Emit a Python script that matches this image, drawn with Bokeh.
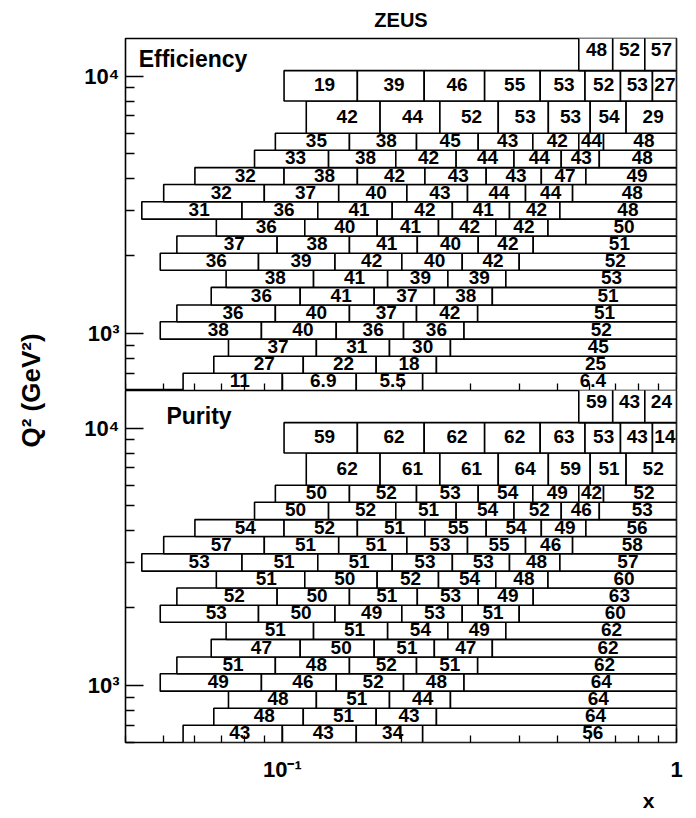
import math
from bokeh.plotting import figure
from bokeh.layouts import row, column
from bokeh.models import (Range1d, ColumnDataSource, FixedTicker,
                          CustomJSTickFormatter, Title)
from bokeh.core.properties import value
from bokeh.embed import file_html
from bokeh.resources import INLINE

# ---------------- data (rows ordered from lowest Q^2 upward) ----------------
q2_low = [600, 700, 815, 950, 1110, 1290, 1510, 1760, 2050, 2390,
          2780, 3250, 3790, 4410, 5150, 6000, 8000, 10500]
q2_high = [700, 815, 950, 1110, 1290, 1510, 1760, 2050, 2390, 2780,
           3250, 3790, 4410, 5150, 6000, 8000, 10500, 15000]

x_edges = [
    [0.056, 0.100, 0.154, 0.227, 1.0],
    [0.067, 0.113, 0.173, 0.246, 1.0],
    [0.073, 0.122, 0.187, 0.267, 1.0],
    [0.049, 0.0885, 0.137, 0.203, 0.289, 1.0],
    [0.054, 0.096, 0.148, 0.219, 0.313, 1.0],
    [0.066, 0.111, 0.171, 0.243, 0.341, 1.0],
    [0.072, 0.120, 0.185, 0.263, 0.369, 1.0],
    [0.049, 0.087, 0.136, 0.201, 0.286, 0.399, 1.0],
    [0.054, 0.097, 0.148, 0.220, 0.314, 0.433, 1.0],
    [0.068, 0.114, 0.174, 0.249, 0.348, 0.472, 1.0],
    [0.044, 0.079, 0.123, 0.190, 0.270, 0.377, 0.506, 1.0],
    [0.050, 0.090, 0.139, 0.207, 0.295, 0.414, 0.545, 1.0],
    [0.060, 0.101, 0.155, 0.230, 0.329, 0.454, 0.589, 1.0],
    [0.085, 0.131, 0.194, 0.276, 0.387, 0.510, 0.637, 1.0],
    [0.096, 0.148, 0.219, 0.314, 0.432, 0.565, 0.653, 1.0],
    [0.115, 0.177, 0.251, 0.353, 0.473, 0.604, 0.745, 1.0],
    [0.101, 0.155, 0.229, 0.326, 0.451, 0.586, 0.721, 0.869, 1.0],
    [0.565, 0.689, 0.831, 1.0],
]

efficiency = [
    [11, 6.9, 5.5, 6.4],
    [27, 22, 18, 25],
    [37, 31, 30, 45],
    [38, 40, 36, 36, 52],
    [36, 40, 37, 42, 51],
    [36, 41, 37, 38, 51],
    [38, 41, 39, 39, 53],
    [36, 39, 42, 40, 42, 52],
    [37, 38, 41, 40, 42, 51],
    [36, 40, 41, 42, 42, 50],
    [31, 36, 41, 42, 41, 42, 48],
    [32, 37, 40, 43, 44, 44, 48],
    [32, 38, 42, 43, 43, 47, 49],
    [33, 38, 42, 44, 44, 43, 48],
    [35, 38, 45, 43, 42, 44, 48],
    [42, 44, 52, 53, 53, 54, 29],
    [19, 39, 46, 55, 53, 52, 53, 27],
    [48, 52, 57],
]

purity = [
    [43, 43, 34, 56],
    [48, 51, 43, 64],
    [48, 51, 44, 64],
    [49, 46, 52, 48, 64],
    [51, 48, 52, 51, 62],
    [47, 50, 51, 47, 62],
    [51, 51, 54, 49, 62],
    [53, 50, 49, 53, 51, 60],
    [52, 50, 51, 53, 49, 63],
    [51, 50, 52, 54, 48, 60],
    [53, 51, 51, 53, 53, 48, 57],
    [57, 51, 51, 53, 55, 46, 58],
    [54, 52, 51, 55, 54, 49, 56],
    [50, 52, 51, 54, 52, 46, 53],
    [50, 52, 53, 54, 49, 42, 52],
    [62, 61, 61, 64, 59, 51, 52],
    [59, 62, 62, 62, 63, 53, 43, 14],
    [59, 43, 24],
]

panel_names = ["Efficiency", "Purity"]

X_RANGE = (0.04, 1.0)
Y_RANGE = (600, 14000)
FONT = "Liberation Sans"


def build_source(values):
    d = dict(left=[], right=[], bottom=[], top=[], tx=[], ty=[], label=[])
    for i, edges in enumerate(x_edges):
        for j, v in enumerate(values[i]):
            lo, hi = edges[j], edges[j + 1]
            d["left"].append(lo)
            d["right"].append(hi)
            d["bottom"].append(q2_low[i])
            d["top"].append(q2_high[i])
            d["tx"].append(0.5 * (lo + hi))
            d["ty"].append(math.sqrt(q2_low[i] * q2_high[i]))
            d["label"].append(f"{v:g}")
    return ColumnDataSource(d)


sup_code = r"""
const e = Math.round(Math.log10(tick));
if (e === 0) { return "1"; }
const sup = {"-1": "\u207b\u00b9", "3": "\u00b3", "4": "\u2074"};
return "10" + sup[String(e)];
"""

y_major = [1000, 10000]
y_minor = [m * 10 ** e for e in (2, 3) for m in range(2, 10)
           if Y_RANGE[0] <= m * 10 ** e <= Y_RANGE[1]]
x_major = [0.1, 1.0]
x_minor = [m * 10.0 ** e for e in (-2, -1) for m in range(2, 10)
           if X_RANGE[0] <= m * 10.0 ** e < X_RANGE[1]]


def make_panel(values, name, label_pos, height, top_border, bottom_border, is_bottom):
    p = figure(width=636, height=height, x_axis_type="log", y_axis_type="log",
               x_range=Range1d(*X_RANGE), y_range=Range1d(*Y_RANGE),
               output_backend="svg", toolbar_location=None,
               min_border_left=65, min_border_right=20,
               min_border_top=top_border, min_border_bottom=bottom_border)
    p.grid.visible = False
    p.outline_line_color = "black"
    p.outline_line_width = 1.6
    p.background_fill_color = "white"
    p.border_fill_color = "white"

    src = build_source(values)
    p.quad(left="left", right="right", bottom="bottom", top="top", source=src,
           fill_color="white", line_color="black", line_width=1.6)
    p.text(x="tx", y="ty", text="label", source=src, text_align="center",
           text_baseline="middle", y_offset=-1, text_font=value(FONT),
           text_font_size="19px", text_font_style="bold", text_color="black")
    p.text(x=[label_pos[0]], y=[label_pos[1]], text=[name], text_align="left",
           text_baseline="middle", text_font=value(FONT), text_font_size="23px",
           text_font_style="bold", text_color="black")

    ya = p.yaxis[0]
    ya.ticker = FixedTicker(ticks=y_major, minor_ticks=y_minor)
    ya.formatter = CustomJSTickFormatter(code=sup_code)
    ya.major_tick_in = 18
    ya.major_tick_out = 0
    ya.minor_tick_in = 9
    ya.minor_tick_out = 0
    ya.axis_line_color = None
    ya.major_tick_line_width = 1.5
    ya.minor_tick_line_width = 1.5
    ya.major_label_standoff = 6
    ya.major_label_text_font = FONT
    ya.major_label_text_font_size = "22px"
    ya.major_label_text_font_style = "bold"
    ya.major_label_text_color = "black"

    xa = p.xaxis[0]
    xa.ticker = FixedTicker(ticks=x_major, minor_ticks=x_minor)
    xa.major_tick_in = 14
    xa.major_tick_out = 0
    xa.minor_tick_in = 7
    xa.minor_tick_out = 0
    xa.axis_line_color = None
    xa.major_tick_line_width = 1.3
    xa.minor_tick_line_width = 1.3
    if is_bottom:
        xa.formatter = CustomJSTickFormatter(code=sup_code)
        xa.major_label_standoff = 14
        xa.major_label_text_font = FONT
        xa.major_label_text_font_size = "22px"
        xa.major_label_text_font_style = "bold"
        xa.major_label_text_color = "black"
        p.add_layout(Title(text="x", align="right", offset=22, standoff=4,
                           text_font=FONT, text_font_size="21px",
                           text_font_style="bold", text_color="black"), "below")
    else:
        xa.formatter = CustomJSTickFormatter(code='return "";')
        xa.fixed_location = Y_RANGE[0]
        xa.major_label_standoff = 0
    return p


top = make_panel(efficiency, panel_names[0], (0.0432, 11640), 390, 38, 0, False)
top.title.text = "ZEUS"
top.title.align = "center"
top.title.vertical_align = "top"
top.title.text_font = FONT
top.title.text_font_size = "20px"
top.title.text_font_style = "bold"
top.title.text_color = "black"
top.title.standoff = 12

bot = make_panel(purity, panel_names[1], (0.0508, 11130), 428, 0, 76, True)

lab = figure(width=60, height=818, output_backend="svg", toolbar_location=None,
             x_axis_location=None, y_axis_location=None,
             x_range=Range1d(0, 1), y_range=Range1d(0, 1),
             min_border_left=50, min_border_right=0,
             min_border_top=38, min_border_bottom=76)
lab.outline_line_color = None
lab.grid.visible = False
lab.border_fill_color = "white"
lab.background_fill_color = "white"
lab.scatter(x=[0.5], y=[0.5], size=0, alpha=0)
lab.add_layout(Title(text="Q\u00b2 (GeV\u00b2)", align="center", text_font=FONT,
                     text_font_size="26px", text_font_style="bold",
                     text_color="black"), "left")

layout = row(lab, column(top, bot))

with open("out.html", "w", encoding="utf-8") as f:
    f.write(file_html(layout, INLINE))
